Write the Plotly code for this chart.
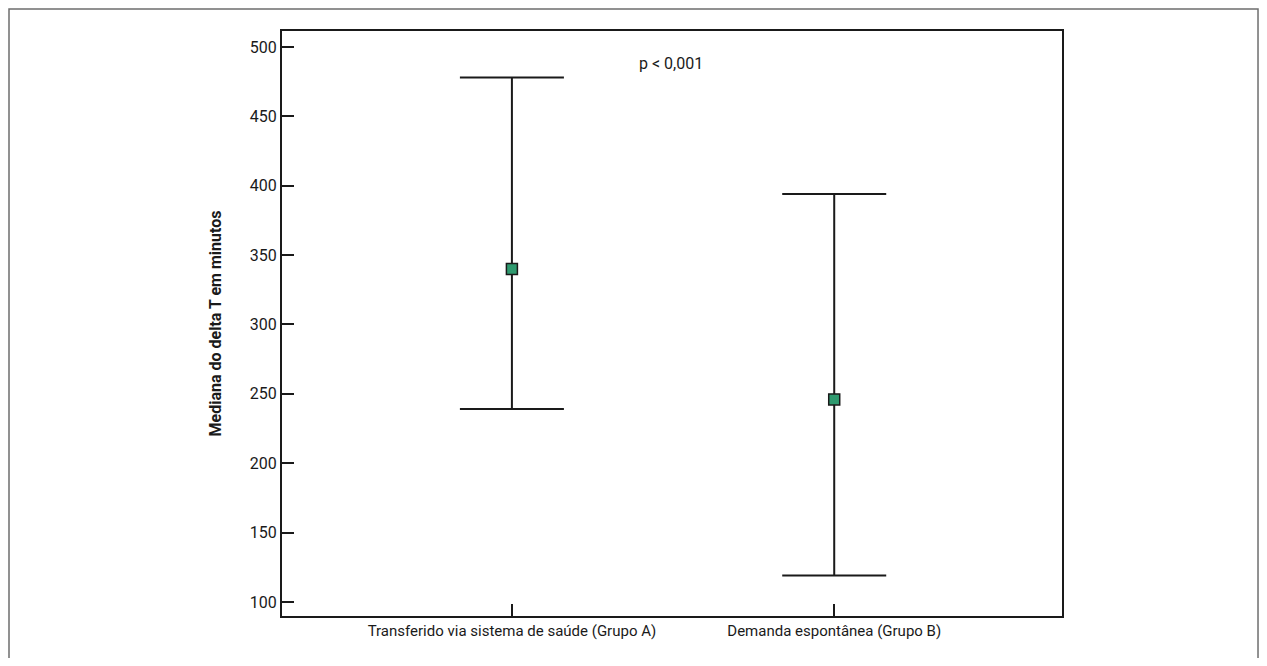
import plotly.graph_objects as go

categories = ["Transferido via sistema de saúde (Grupo A)", "Demanda espontânea (Grupo B)"]
medians = [340, 246]
upper = [478, 394]
lower = [239, 119]
y_ticks = [100, 150, 200, 250, 300, 350, 400, 450, 500]

err_plus = [u - m for u, m in zip(upper, medians)]
err_minus = [m - l for m, l in zip(medians, lower)]

FONT = "Roboto, Liberation Sans, Arial, sans-serif"

fig = go.Figure()
fig.add_trace(go.Scatter(
    x=[0, 1], y=medians, mode="markers",
    marker=dict(symbol="square", size=11, color="#2f9a6f",
                line=dict(color="#1a1a1a", width=1.5)),
    error_y=dict(type="data", symmetric=False, array=err_plus, arrayminus=err_minus,
                 width=52, thickness=2, color="#1a1a1a"),
    showlegend=False, hoverinfo="skip",
))

fig.update_layout(
    width=1251, height=650,
    margin=dict(l=274, r=197, t=23, b=42),
    paper_bgcolor="white", plot_bgcolor="white",
    font=dict(family=FONT, size=16, color="#1a1a1a"),
    xaxis=dict(
        range=[-0.7133, 1.7067], tickmode="array", tickvals=[0, 1], ticktext=categories,
        ticks="inside", ticklen=12, tickwidth=2, tickcolor="#1a1a1a",
        showline=True, linecolor="#1a1a1a", linewidth=2, mirror=True,
        showgrid=False, zeroline=False, tickfont=dict(size=15),
    ),
    yaxis=dict(
        range=[89.9, 511.5], tickmode="array", tickvals=y_ticks,
        ticks="inside", ticklen=12, tickwidth=2, tickcolor="#1a1a1a",
        showline=True, linecolor="#1a1a1a", linewidth=2, mirror=True,
        showgrid=False, zeroline=False, tickfont=dict(size=16),
        title=dict(text="<b>Mediana do delta T em minutos</b>", font=dict(size=16), standoff=24),
    ),
    annotations=[dict(
        x=0.495, xref="x", y=0.945, yref="paper",
        text="p < 0,001", showarrow=False, font=dict(size=16),
        xanchor="center", yanchor="middle",
    )],
    shapes=[dict(
        type="rect", xref="paper", yref="paper",
        x0=-0.35, x1=1.2513, y0=-0.2, y1=1.0376,
        line=dict(color="#6e6e6e", width=1.5), fillcolor="rgba(0,0,0,0)", layer="below",
    )],
)

fig.write_html("out.html")
